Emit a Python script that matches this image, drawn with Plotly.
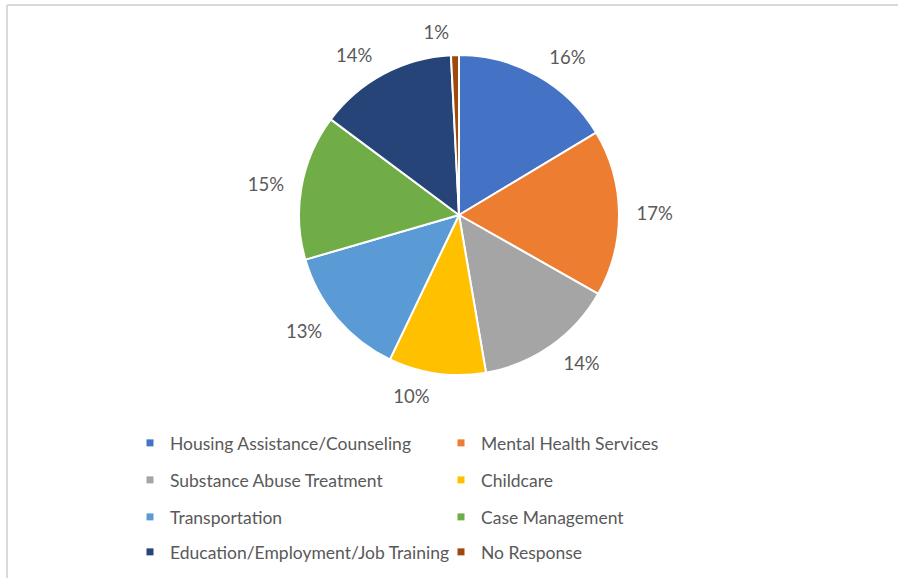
import plotly.graph_objects as go

categories = [
    "Housing Assistance/Counseling",
    "Mental Health Services",
    "Substance Abuse Treatment",
    "Childcare",
    "Transportation",
    "Case Management",
    "Education/Employment/Job Training",
    "No Response",
]
shares = [16.4, 16.8, 14.1, 9.8, 13.4, 14.7, 14.0, 0.8]
colors = ["#4472C4", "#ED7D31", "#A5A5A5", "#FFC000",
          "#5B9BD5", "#70AD47", "#264478", "#9E480E"]

W, H = 898, 578
FONT = "Lato"
TXT = "#595959"
CX, CY, R = 459, 215, 160
RL = 172  # radius of the (transparent) label ring

fig = go.Figure()

# transparent ring carrying the outside percentage labels a bit further out
fig.add_trace(go.Pie(
    labels=categories,
    values=shares,
    sort=False,
    direction="clockwise",
    rotation=0,
    marker=dict(colors=["rgba(0,0,0,0)"] * len(categories),
                line=dict(width=0)),
    texttemplate="%{percent:.0%}",
    textposition="outside",
    textfont=dict(family=FONT, size=18.5, color=TXT),
    showlegend=False,
    hoverinfo="skip",
    domain=dict(x=[(CX - RL) / W, (CX + RL) / W],
                y=[1 - (CY + RL) / H, 1 - (CY - RL) / H]),
))

fig.add_trace(go.Pie(
    labels=categories,
    values=shares,
    sort=False,
    direction="clockwise",
    rotation=0,
    marker=dict(colors=colors, line=dict(color="white", width=2)),
    textinfo="none",
    showlegend=False,
    hoverinfo="label+percent",
    domain=dict(x=[(CX - R) / W, (CX + R) / W],
                y=[1 - (CY + R) / H, 1 - (CY - R) / H]),
))

# legend entries: two per row, four rows
legend_names = ["legend", "legend2", "legend3", "legend4"]
for i, (cat, col) in enumerate(zip(categories, colors)):
    fig.add_trace(go.Scatter(
        x=[None], y=[None], mode="markers", name=cat,
        marker=dict(symbol="square", size=7, color=col),
        legend=legend_names[i // 2], showlegend=True,
    ))

row_y = [443, 480, 517, 552]
legend_layout = {}
for j, ln in enumerate(legend_names):
    legend_layout[ln] = dict(
        orientation="h", entrywidth=266, entrywidthmode="pixels",
        x=130 / W, xanchor="left",
        y=1 - row_y[j] / H, yanchor="middle",
        font=dict(family=FONT, size=17.5, color=TXT),
        bgcolor="rgba(0,0,0,0)", itemclick=False, itemdoubleclick=False,
        itemsizing="trace",
    )

fig.update_layout(
    width=W, height=H,
    margin=dict(l=0, r=0, t=0, b=0),
    paper_bgcolor="white", plot_bgcolor="white",
    xaxis=dict(visible=False), yaxis=dict(visible=False),
    font=dict(family=FONT, color=TXT),
    shapes=[
        dict(type="line", xref="paper", yref="paper",
             x0=7 / W, x1=1, y0=1 - 5 / H, y1=1 - 5 / H,
             line=dict(color="#D9D9D9", width=2)),
        dict(type="line", xref="paper", yref="paper",
             x0=7 / W, x1=7 / W, y0=0, y1=1 - 5 / H,
             line=dict(color="#D9D9D9", width=2)),
    ],
    **legend_layout,
)

fig.write_html("out.html",
               config={"displayModeBar": False},
               post_script="document.body.style.margin='0';document.body.style.overflow='hidden';")
